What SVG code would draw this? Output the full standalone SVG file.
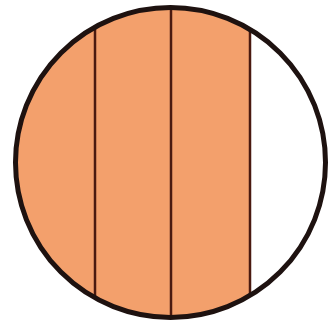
<svg xmlns="http://www.w3.org/2000/svg" width="329" height="326" viewBox="0 0 329 326">
<defs>
<clipPath id="c"><circle cx="170.5" cy="162.5" r="155"/></clipPath>
<style>.div{stroke:#4a1a10;stroke-width:2.5}</style>
</defs>
<rect width="329" height="326" fill="#fff"/>
<g id="fill" clip-path="url(#c)">
<rect x="0" y="0" width="250" height="326" fill="#F3A06C"/>
<line class="div" x1="95" y1="0" x2="95" y2="326"/>
<line class="div" x1="171" y1="0" x2="171" y2="326"/>
<line class="div" x1="250" y1="0" x2="250" y2="326"/>
</g>
<circle id="outline" cx="170.5" cy="162.5" r="155" fill="none" stroke="#1e1210" stroke-width="5"/>
</svg>
